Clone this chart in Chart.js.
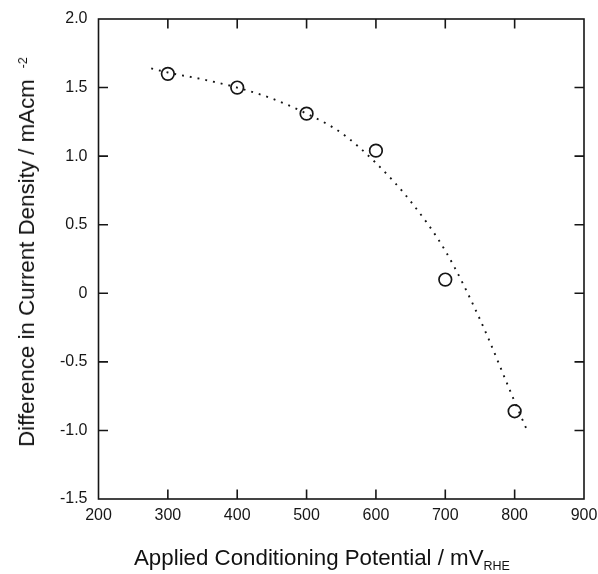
<!DOCTYPE html>
<html>
<head>
<meta charset="utf-8">
<script src="https://cdn.jsdelivr.net/npm/chart.js@4"></script>
<style>
  body { margin: 0; background: #fff; }
  #wrap { position: relative; width: 598px; height: 574px; font-family: "Liberation Sans", Arial, sans-serif; color: #111; }
  #chart { position: absolute; left: 0; top: 0; }
  .ytitle { position: absolute; left: 27px; top: 252px; white-space: nowrap; font-size: 22.3px; line-height: 22px;
            transform: translate(-50%, -50%) rotate(-90deg); }
  .ytitle sup { font-size: 12.5px; position: relative; top: -4px; margin-left: 11px; vertical-align: top; }
  .xtitle { position: absolute; left: 134px; top: 547px; white-space: nowrap; font-size: 22.3px; line-height: 22px; }
  .xtitle sub { font-size: 12.5px; position: relative; top: 5px; vertical-align: baseline; }
</style>
</head>
<body>
<div id="wrap">
  <canvas id="chart" width="598" height="574"></canvas>
  <div class="ytitle">Difference in Current Density / mAcm<sup>-2</sup></div>
  <div class="xtitle">Applied Conditioning Potential / mV<sub>RHE</sub></div>
</div>
<script>
'use strict';

/* ── data ── */
const potentials = [300, 400, 500, 600, 700, 800];
const currentDiff = [1.60, 1.50, 1.31, 1.04, 0.10, -0.86];

// dotted guide curve
const fitX = [276, 300, 350, 400, 450, 500, 550, 600, 650, 700, 750, 800, 818];
const fitY = [1.64, 1.61, 1.56, 1.50, 1.42, 1.31, 1.17, 0.95, 0.67, 0.31, -0.19, -0.79, -1.0];

const xTicks = [200, 300, 400, 500, 600, 700, 800, 900];
const yTicks = [-1.5, -1.0, -0.5, 0, 0.5, 1.0, 1.5, 2.0];

const INK = '#161616';

/* ── frame + inward ticks on all four sides ── */
const framePlugin = {
    id: 'frame',
    afterDatasetsDraw(chart) {
        const { ctx, chartArea: a, scales } = chart;
        const len = 9.5;
        ctx.save();
        ctx.strokeStyle = INK;
        ctx.lineWidth = 1.6;
        ctx.strokeRect(a.left, a.top, a.right - a.left, a.bottom - a.top);
        ctx.beginPath();
        xTicks.slice(1, -1).forEach(v => {
            const px = scales.x.getPixelForValue(v);
            ctx.moveTo(px, a.bottom); ctx.lineTo(px, a.bottom - len);
            ctx.moveTo(px, a.top); ctx.lineTo(px, a.top + len);
        });
        yTicks.slice(1, -1).forEach(v => {
            const py = scales.y.getPixelForValue(v);
            ctx.moveTo(a.left, py); ctx.lineTo(a.left + len, py);
            ctx.moveTo(a.right, py); ctx.lineTo(a.right - len, py);
        });
        ctx.stroke();
        ctx.restore();
    },
};

const tickFont = { family: '"Liberation Sans", Arial, sans-serif', size: 16 };

new Chart(document.getElementById('chart'), {
    type: 'scatter',
    data: {
        datasets: [
            {
                label: 'fit',
                data: fitX.map((x, i) => ({ x, y: fitY[i] })),
                showLine: true,
                borderColor: INK,
                borderWidth: 1.9,
                borderDash: [1.9, 6],
                pointRadius: 0,
                cubicInterpolationMode: 'monotone',
                fill: false,
            },
            {
                label: 'measured',
                data: potentials.map((x, i) => ({ x, y: currentDiff[i] })),
                showLine: false,
                pointStyle: 'circle',
                pointRadius: 6.3,
                borderWidth: 1.7,
                borderColor: INK,
                backgroundColor: 'rgba(255,255,255,0)',
            },
        ],
    },
    options: {
        responsive: false,
        animation: false,
        events: [],
        layout: { padding: { left: 0, top: 19, right: 14, bottom: 0 } },
        plugins: { legend: { display: false }, tooltip: { enabled: false } },
        scales: {
            x: {
                type: 'linear', min: 200, max: 900,
                afterBuildTicks: s => { s.ticks = xTicks.map(v => ({ value: v })); },
                afterFit: s => { s.height = 75; s.paddingLeft = 0; s.paddingRight = 0; },
                grid: { display: false, drawTicks: false },
                border: { display: false },
                ticks: { color: INK, font: tickFont, padding: 7, maxRotation: 0 },
            },
            y: {
                type: 'linear', min: -1.5, max: 2.0,
                afterBuildTicks: s => { s.ticks = yTicks.map(v => ({ value: v })); },
                afterFit: s => { s.width = 98.5; s.paddingTop = 0; s.paddingBottom = 0; },
                grid: { display: false, drawTicks: false },
                border: { display: false },
                ticks: {
                    color: INK, font: tickFont, padding: 11,
                    callback: v => (v === 0 ? '0' : v.toFixed(1)),
                },
            },
        },
    },
    plugins: [framePlugin],
});
</script>
</body>
</html>
